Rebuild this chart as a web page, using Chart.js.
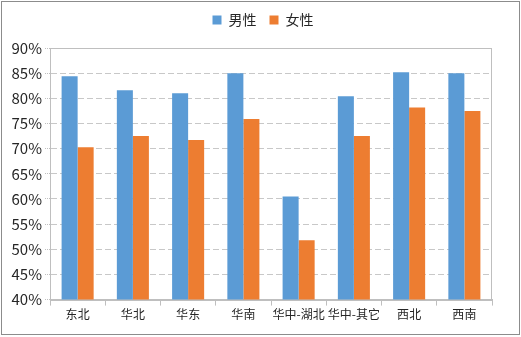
<!DOCTYPE html>
<html>
<head>
<meta charset="utf-8">
<script src="https://cdn.jsdelivr.net/npm/chart.js@4"></script>
<style>
    html, body { margin: 0; padding: 0; background: #fff; }
    #wrap { width: 521px; height: 337px; }
</style>
</head>
<body>
<div id="wrap"><canvas id="regionChart" width="521" height="337"></canvas></div>
<script>
// === Данные ===
const regions = ["东北", "华北", "华东", "华南", "华中-湖北", "华中-其它", "西北", "西南"];
const maleShare = [84.4, 81.6, 81.0, 85.0, 60.5, 80.4, 85.2, 85.0];
const femaleShare = [70.3, 72.5, 71.7, 75.9, 51.8, 72.5, 78.2, 77.5];
const seriesNames = ["男性", "女性"];

const FONT = "'Noto Sans CJK SC', 'Noto Sans', sans-serif";
const LEGEND_HEIGHT = 48;
const LEGEND_SHIFT = 17;

// === Легенда: фиксированная высота и небольшой сдвиг вправо ===
const legendTweakPlugin = {
    id: "legendTweak",
    beforeLayout(chart) {
        const lg = chart.legend;
        if (lg && !lg._tweaked) {
            const fit = lg.fit.bind(lg);
            lg.fit = function () {
                fit();
                this.height = LEGEND_HEIGHT;
            };
            const draw = lg.draw.bind(lg);
            lg.draw = function (area) {
                this.ctx.save();
                this.ctx.translate(LEGEND_SHIFT, 0);
                draw(area);
                this.ctx.restore();
            };
            lg._tweaked = true;
        }
    }
};

// === Рамка вокруг всего графика и вокруг области построения ===
const framePlugin = {
    id: "frame",
    beforeDraw(chart) {
        const c = chart.ctx;
        c.save();
        c.fillStyle = "#fff";
        c.fillRect(0, 0, chart.width, chart.height);
        c.restore();
    },
    afterDraw(chart) {
        const c = chart.ctx;
        const a = chart.chartArea;
        c.save();
        c.strokeStyle = "#bfbfbf";
        c.lineWidth = 1;
        c.strokeRect(Math.round(a.left) + 0.5, Math.round(a.top) + 0.5,
            Math.round(a.right - a.left) - 1, Math.round(a.bottom - a.top));
        c.strokeStyle = "#8c8c8c";
        c.strokeRect(1.5, 1.5, chart.width - 3, chart.height - 4);
        c.restore();
    }
};

const ctx = document.getElementById("regionChart").getContext("2d");
new Chart(ctx, {
    type: "bar",
    data: {
        labels: regions,
        datasets: [
            { label: seriesNames[0], data: maleShare, backgroundColor: "#5b9bd5" },
            { label: seriesNames[1], data: femaleShare, backgroundColor: "#ed7d31" }
        ]
    },
    options: {
        responsive: false,
        animation: false,
        layout: { padding: { left: 0, right: 29, top: 0, bottom: 13 } },
        datasets: {
            bar: { categoryPercentage: 0.58, barPercentage: 1.0 }
        },
        plugins: {
            tooltip: { enabled: false },
            legend: {
                position: "top",
                labels: {
                    boxWidth: 9,
                    boxHeight: 9,
                    padding: 13,
                    color: "#262626",
                    font: { family: FONT, size: 14 }
                }
            }
        },
        scales: {
            x: {
                grid: {
                    offset: true,
                    drawOnChartArea: false,
                    drawTicks: true,
                    tickLength: 6,
                    color: "#bfbfbf"
                },
                border: { color: "#bfbfbf" },
                ticks: {
                    color: "#262626",
                    padding: 2,
                    maxRotation: 0,
                    autoSkip: false,
                    font: { family: FONT, size: 12 }
                }
            },
            y: {
                min: 40,
                max: 90,
                afterFit(scale) { scale.width = 50; },
                grid: {
                    color: "#c8c8c8",
                    tickColor: "#bfbfbf",
                    tickLength: 5,
                    tickBorderDash: [1, 1]
                },
                border: { color: "#bfbfbf", dash: [6, 3] },
                ticks: {
                    stepSize: 5,
                    color: "#262626",
                    padding: 3,
                    font: { family: FONT, size: 15 },
                    callback: (v) => v + "%"
                }
            }
        }
    },
    plugins: [legendTweakPlugin, framePlugin]
});
</script>
</body>
</html>
